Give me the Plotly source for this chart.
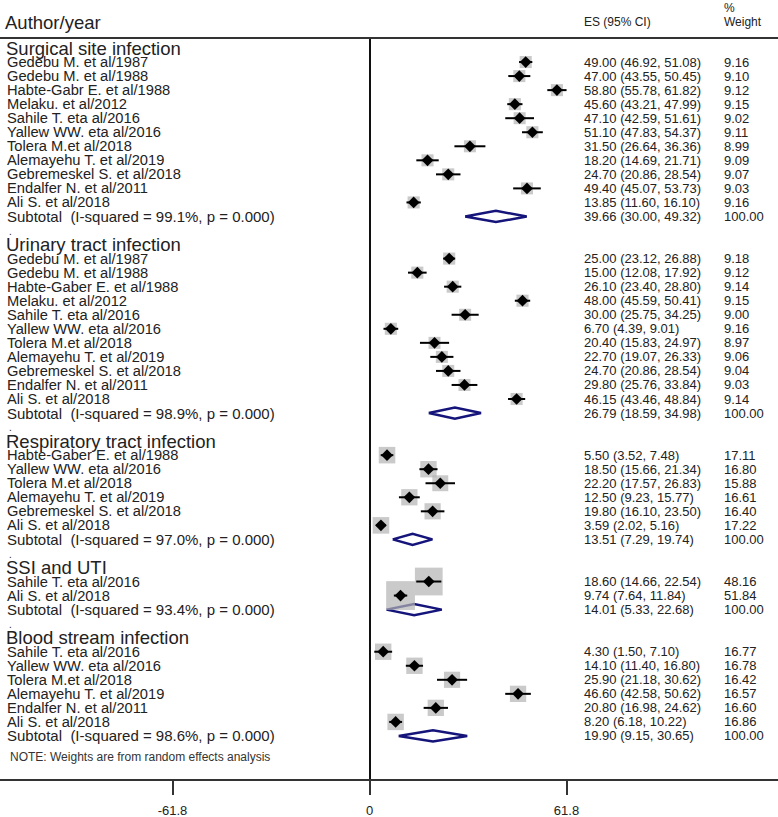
import plotly.graph_objects as go
import math

# ---------------- data ----------------
group_names = ["Surgical site infection", "Urinary tract infection",
               "Respiratory tract infection", "SSI and UTI", "Blood stream infection"]

ssi_authors = ["Gedebu M. et al/1987", "Gedebu M. et al/1988", "Habte-Gabr E. et al/1988",
               "Melaku. et al/2012", "Sahile T. eta al/2016", "Yallew WW. eta al/2016",
               "Tolera M.et al/2018", "Alemayehu T. et al/2019", "Gebremeskel S. et al/2018",
               "Endalfer N. et al/2011", "Ali S. et al/2018"]
ssi_es = [49.00, 47.00, 58.80, 45.60, 47.10, 51.10, 31.50, 18.20, 24.70, 49.40, 13.85]
ssi_lo = [46.92, 43.55, 55.78, 43.21, 42.59, 47.83, 26.64, 14.69, 20.86, 45.07, 11.60]
ssi_hi = [51.08, 50.45, 61.82, 47.99, 51.61, 54.37, 36.36, 21.71, 28.54, 53.73, 16.10]
ssi_w = [9.16, 9.10, 9.12, 9.15, 9.02, 9.11, 8.99, 9.09, 9.07, 9.03, 9.16]

uti_authors = ["Gedebu M. et al/1987", "Gedebu M. et al/1988", "Habte-Gaber E. et al/1988",
               "Melaku. et al/2012", "Sahile T. eta al/2016", "Yallew WW. eta al/2016",
               "Tolera M.et al/2018", "Alemayehu T. et al/2019", "Gebremeskel S. et al/2018",
               "Endalfer N. et al/2011", "Ali S. et al/2018"]
uti_es = [25.00, 15.00, 26.10, 48.00, 30.00, 6.70, 20.40, 22.70, 24.70, 29.80, 46.15]
uti_lo = [23.12, 12.08, 23.40, 45.59, 25.75, 4.39, 15.83, 19.07, 20.86, 25.76, 43.46]
uti_hi = [26.88, 17.92, 28.80, 50.41, 34.25, 9.01, 24.97, 26.33, 28.54, 33.84, 48.84]
uti_w = [9.18, 9.12, 9.14, 9.15, 9.00, 9.16, 8.97, 9.06, 9.04, 9.03, 9.14]

rti_authors = ["Habte-Gaber E. et al/1988", "Yallew WW. eta al/2016", "Tolera M.et al/2018",
               "Alemayehu T. et al/2019", "Gebremeskel S. et al/2018", "Ali S. et al/2018"]
rti_es = [5.50, 18.50, 22.20, 12.50, 19.80, 3.59]
rti_lo = [3.52, 15.66, 17.57, 9.23, 16.10, 2.02]
rti_hi = [7.48, 21.34, 26.83, 15.77, 23.50, 5.16]
rti_w = [17.11, 16.80, 15.88, 16.61, 16.40, 17.22]

su_authors = ["Sahile T. eta al/2016", "Ali S. et al/2018"]
su_es = [18.60, 9.74]
su_lo = [14.66, 7.64]
su_hi = [22.54, 11.84]
su_w = [48.16, 51.84]

bsi_authors = ["Sahile T. eta al/2016", "Yallew WW. eta al/2016", "Tolera M.et al/2018",
               "Alemayehu T. et al/2019", "Endalfer N. et al/2011", "Ali S. et al/2018"]
bsi_es = [4.30, 14.10, 25.90, 46.60, 20.80, 8.20]
bsi_lo = [1.50, 11.40, 21.18, 42.58, 16.98, 6.18]
bsi_hi = [7.10, 16.80, 30.62, 50.62, 24.62, 10.22]
bsi_w = [16.77, 16.78, 16.42, 16.57, 16.60, 16.86]

sub_i2 = ["99.1%", "98.9%", "97.0%", "93.4%", "98.6%"]
sub_es = [39.66, 26.79, 13.51, 14.01, 19.90]
sub_lo = [30.00, 18.59, 7.29, 5.33, 9.15]
sub_hi = [49.32, 34.98, 19.74, 22.68, 30.65]

tick_vals = [-61.8, 0, 61.8]
tick_text = ["-61.8", "0", "61.8"]

groups = [
    (ssi_authors, ssi_es, ssi_lo, ssi_hi, ssi_w),
    (uti_authors, uti_es, uti_lo, uti_hi, uti_w),
    (rti_authors, rti_es, rti_lo, rti_hi, rti_w),
    (su_authors, su_es, su_lo, su_hi, su_w),
    (bsi_authors, bsi_es, bsi_lo, bsi_hi, bsi_w),
]

# ---------------- layout constants ----------------
W, H = 778, 817
FONT = "Liberation Sans, Arial, sans-serif"
TXT = "#222222"
X_NAME = 5 / W
X_HEAD = 4 / W
X_ES = 582 / W
X_WT = 722 / W

fig = go.Figure()
annotations = []

def ann(x, y, text, size=13, yref="y", color=TXT):
    annotations.append(dict(x=x, y=y, xref="paper", yref=yref, text=text,
                            showarrow=False, xanchor="left", yanchor="middle",
                            font=dict(family=FONT, size=size, color=color)))

ci_x, ci_y = [], []
pt_x, pt_y, box_size = [], [], []

row = 0
for gi, (authors, es, lo, hi, w) in enumerate(groups):
    if gi > 0:
        ann(7 / W, row + 0.05, ".", size=10)
        row += 1
    ann(X_HEAD, row, group_names[gi], size=18.5)
    row += 1
    for a, e, l, h, wt in zip(authors, es, lo, hi, w):
        ann(X_NAME, row, a, size=14.7)
        ann(X_ES, row, f"{e:.2f} ({l:.2f}, {h:.2f})")
        ann(X_WT, row, f"{wt:.2f}")
        ci_x += [l, h, None]
        ci_y += [row, row, None]
        pt_x.append(e)
        pt_y.append(row)
        box_size.append(4.0 * math.sqrt(wt))
        row += 1
    # subtotal
    ann(X_NAME, row, f"Subtotal  (I-squared = {sub_i2[gi]}, p = 0.000)", size=15)
    ann(X_ES, row, f"{sub_es[gi]:.2f} ({sub_lo[gi]:.2f}, {sub_hi[gi]:.2f})")
    ann(X_WT, row, "100.00")
    hh = 0.4
    fig.add_trace(go.Scatter(
        x=[sub_lo[gi], sub_es[gi], sub_hi[gi], sub_es[gi], sub_lo[gi]],
        y=[row, row - hh, row, row + hh, row],
        mode="lines", fill="toself", fillcolor="white",
        line=dict(color="#14147a", width=2.5), hoverinfo="skip", showlegend=False))
    row += 1

note_row = row + 0.5
ann(8 / W, note_row, "NOTE: Weights are from random effects analysis", size=12, color="#333333")

# boxes
fig.add_trace(go.Scatter(x=pt_x, y=pt_y, mode="markers",
                         marker=dict(symbol="square", size=box_size, color="#b3b3b3",
                                     line=dict(width=0)),
                         hoverinfo="skip", showlegend=False))
# CI lines
fig.add_trace(go.Scatter(x=ci_x, y=ci_y, mode="lines",
                         line=dict(color="black", width=2),
                         hoverinfo="skip", showlegend=False))
# point estimates
fig.add_trace(go.Scatter(x=pt_x, y=pt_y, mode="markers",
                         marker=dict(symbol="diamond", size=9, color="black"),
                         hoverinfo="skip", showlegend=False))

# column headers (above plot area)
ann(3 / W, 1 + 16 / 741, "Author/year", size=18.5, yref="paper")
ann(X_ES, 1 + 16 / 741, "ES (95% CI)", size=12, yref="paper")
ann(X_WT, 1 + 30 / 741, "%", size=12, yref="paper")
ann(X_WT, 1 + 16 / 741, "Weight", size=12, yref="paper")

px_per = 394 / 123.6
zero_px = 369.5
x_range = [-zero_px / px_per, (W - zero_px) / px_per]
y_range = [(779 - 48) / 14.04, (38 - 48) / 14.04]

fig.update_layout(
    width=W, height=H,
    margin=dict(l=0, r=0, t=38, b=38),
    plot_bgcolor="white", paper_bgcolor="white",
    annotations=annotations,
    shapes=[dict(type="line", xref="paper", yref="paper", x0=0, x1=1, y0=1, y1=1,
                 line=dict(color="#333333", width=2))],
    xaxis=dict(range=x_range, showgrid=False, zeroline=True, zerolinecolor="#111111",
               zerolinewidth=2, showline=True, linecolor="#333333", linewidth=2,
               tickvals=tick_vals, ticktext=tick_text, ticks="outside", ticklen=14,
               tickwidth=2, tickcolor="#333333", ticklabelstandoff=4,
               tickfont=dict(family=FONT, size=13, color=TXT)),
    yaxis=dict(range=y_range, visible=False, showgrid=False, zeroline=False),
    showlegend=False,
)

fig.write_html("out.html", config={"displayModeBar": False},
               post_script="document.body.style.margin='0';document.body.style.overflow='hidden';")
